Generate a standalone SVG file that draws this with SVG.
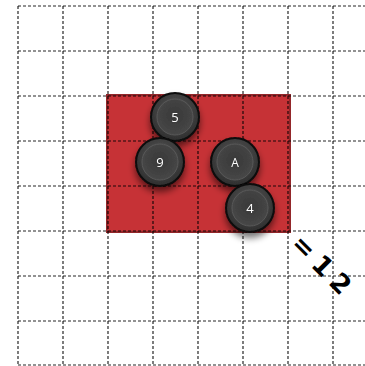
<svg xmlns="http://www.w3.org/2000/svg" width="365" height="366" viewBox="0 0 365 366">
<defs>
<radialGradient id="disc" cx="50%" cy="40%" r="60%">
<stop offset="0" stop-color="#5a5a5a"/>
<stop offset="1" stop-color="#2e2e2e"/>
</radialGradient>
<radialGradient id="inner" cx="50%" cy="45%" r="55%">
<stop offset="0" stop-color="#383838"/>
<stop offset="1" stop-color="#474747"/>
</radialGradient>
<filter id="sh" x="-50%" y="-50%" width="200%" height="200%">
<feGaussianBlur in="SourceAlpha" stdDeviation="3.5"/>
<feOffset dx="0" dy="5" result="b"/>
<feComponentTransfer><feFuncA type="linear" slope="0.55"/></feComponentTransfer>
<feMerge><feMergeNode/><feMergeNode in="SourceGraphic"/></feMerge>
</filter>
</defs>
<style>
.g{stroke:#000;stroke-opacity:0.85;stroke-width:1.2;stroke-dasharray:3 2;fill:none}
.disc{fill:url(#disc);stroke:#0a0a0a;stroke-width:2}
.in{fill:url(#inner);stroke:#585858;stroke-width:1}
.lbl{font-family:"Open Sans","DejaVu Sans",sans-serif;font-size:13px;fill:#fff;text-anchor:middle}
</style>
<rect width="365" height="366" fill="#fff"/>
<g id="board">
<rect x="107" y="95" width="183" height="137" fill="#c4282c" stroke="#8e1c1f" stroke-width="2" opacity="0.95"/>
</g>
<g id="grid">
<path class="g" d="M18 6V366M63 6V366M108 6V366M153 6V366M198 6V366M243 6V366M288 6V366M333 6V366"/>
<path class="g" d="M18 6H365M18 51H365M18 96H365M18 141H365M18 186H365M18 231H365M18 276H365M18 321H365M18 365H365"/>
</g>
<g id="n5" filter="url(#sh)">
<circle class="disc" cx="175" cy="117" r="24"/>
<circle class="in" cx="175" cy="117" r="18"/>
<text class="lbl" x="175" y="122">5</text>
</g>
<g id="n9" filter="url(#sh)">
<circle class="disc" cx="160" cy="162" r="24"/>
<circle class="in" cx="160" cy="162" r="18"/>
<text class="lbl" x="160" y="167">9</text>
</g>
<g id="nA" filter="url(#sh)">
<circle class="disc" cx="235" cy="162" r="24"/>
<circle class="in" cx="235" cy="162" r="18"/>
<text class="lbl" x="235" y="167" style="font-size:12px">A</text>
</g>
<g id="n4" filter="url(#sh)">
<circle class="disc" cx="250" cy="208" r="24"/>
<circle class="in" cx="250" cy="208" r="18"/>
<text class="lbl" x="250" y="213">4</text>
</g>
<g id="label">
<text x="0" y="0" transform="translate(324 267) rotate(45)" font-family="'DejaVu Sans',sans-serif" font-weight="bold" font-size="26" letter-spacing="7" text-anchor="middle" dominant-baseline="central" fill="#000">=12</text>
</g>
</svg>
